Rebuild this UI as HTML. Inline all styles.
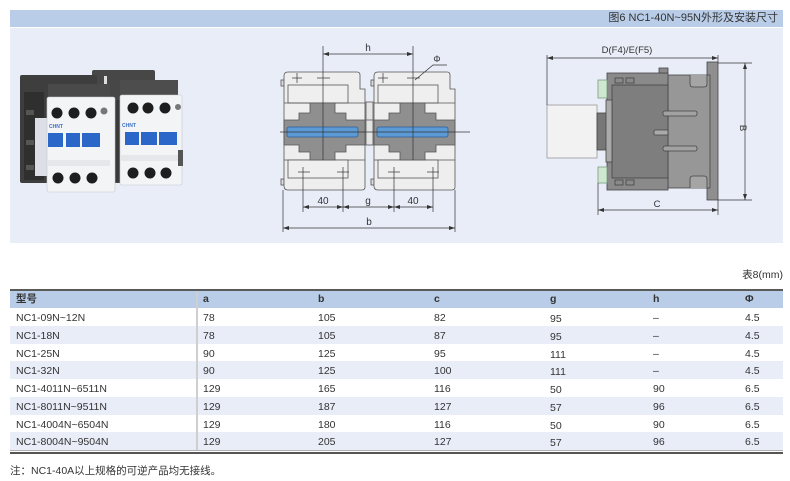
<!DOCTYPE html>
<html><head><meta charset="utf-8"><style>
body{margin:0;width:790px;height:481px;background:#fff;position:relative;overflow:hidden;font-family:"Liberation Sans","Noto Sans CJK SC",sans-serif;color:#333}
.a{position:absolute;white-space:nowrap}
.r{position:absolute;left:10px;width:773px;height:18px}
.t{position:absolute;font-size:10.5px;line-height:20px;white-space:nowrap}
.h{position:absolute;font-size:10.5px;line-height:17px;font-weight:bold;white-space:nowrap;top:291px}
</style></head><body>
<div class="a" style="left:10px;top:10px;width:773px;height:17px;background:#b9cde8"></div>
<div class="a" style="left:10px;top:28px;width:773px;height:215px;background:#e9edf8"></div>
<div class="a" style="right:12px;top:10px;line-height:17px;font-size:11px;color:#333">图6 NC1-40N~95N外形及安装尺寸</div>

<svg class="a" style="left:0;top:0" width="790" height="481" viewBox="0 0 790 481">
<defs>
<marker id="ar" markerWidth="6" markerHeight="6" refX="6" refY="3" orient="auto" markerUnits="userSpaceOnUse"><path d="M0,1 L6,3 L0,5 Z" fill="#333"/></marker>
<marker id="al" markerWidth="6" markerHeight="6" refX="0" refY="3" orient="auto" markerUnits="userSpaceOnUse"><path d="M6,1 L0,3 L6,5 Z" fill="#333"/></marker>
</defs>

<!-- PHOTO -->
<g>
<!-- right device back plate (behind) -->
<rect x="92" y="70" width="63" height="113" rx="2" fill="#474747"/>
<rect x="100" y="100" width="20" height="82" fill="#3a3a3a"/>
<rect x="104" y="76" width="3" height="8" fill="#ddd"/>
<!-- left device -->
<rect x="20" y="75" width="77" height="108" rx="2" fill="#3e3e3e"/>
<rect x="24" y="92" width="20" height="88" fill="#2f2f2f"/>
<rect x="26" y="110" width="8" height="5" fill="#555"/><rect x="26" y="140" width="8" height="5" fill="#555"/><rect x="26" y="165" width="8" height="5" fill="#555"/>
<rect x="35" y="118" width="12" height="58" fill="#dcdfe6"/>
<rect x="48" y="84" width="62" height="14" fill="#4a4a4a"/>
<rect x="47" y="97" width="68" height="95" rx="2" fill="#f3f4f6" stroke="#c4c7cc" stroke-width="0.6"/>
<circle cx="57" cy="113" r="5.5" fill="#1e1e1e"/><circle cx="74" cy="113" r="5.5" fill="#1e1e1e"/><circle cx="91" cy="113" r="5.5" fill="#1e1e1e"/><circle cx="104" cy="111" r="3.5" fill="#777"/>
<rect x="48" y="133" width="15" height="14" fill="#2a67c9"/><rect x="66" y="133" width="14" height="14" fill="#2a67c9"/><rect x="82" y="133" width="18" height="14" fill="#2a67c9"/>
<text x="49" y="128" font-size="5" fill="#3a6fc0" font-weight="bold">CHNT</text>
<rect x="48" y="160" width="62" height="6" fill="#e6e7ea"/>
<circle cx="58" cy="178" r="5.5" fill="#1e1e1e"/><circle cx="75" cy="178" r="5.5" fill="#1e1e1e"/><circle cx="92" cy="178" r="5.5" fill="#1e1e1e"/>
<!-- right device front -->
<rect x="120" y="80" width="58" height="16" fill="#4d4d4d"/>
<rect x="120" y="95" width="62" height="90" rx="2" fill="#f3f4f6" stroke="#c4c7cc" stroke-width="0.6"/>
<circle cx="133" cy="108" r="5.5" fill="#1e1e1e"/><circle cx="148" cy="108" r="5.5" fill="#1e1e1e"/><circle cx="165" cy="108" r="5.5" fill="#1e1e1e"/><circle cx="178" cy="107" r="3" fill="#777"/>
<text x="122" y="127" font-size="5" fill="#3a6fc0" font-weight="bold">CHNT</text>
<rect x="125" y="132" width="14" height="13" fill="#2a67c9"/><rect x="141" y="132" width="16" height="13" fill="#2a67c9"/><rect x="159" y="132" width="18" height="13" fill="#2a67c9"/>
<rect x="121" y="155" width="60" height="6" fill="#e6e7ea"/>
<rect x="178" y="150" width="5" height="16" fill="#555"/>
<circle cx="133" cy="173" r="5.5" fill="#1e1e1e"/><circle cx="150" cy="173" r="5.5" fill="#1e1e1e"/><circle cx="166" cy="173" r="5.5" fill="#1e1e1e"/>
</g>

<!-- MIDDLE DRAWING -->
<g stroke="#555" stroke-width="0.8">
<rect x="281" y="80" width="3" height="6" fill="#ddd"/>
<rect x="281" y="179" width="3" height="6" fill="#ddd"/>
<path d="M288,72 H357 Q360,72 360,75 V89 H365 V187 Q365,190 362,190 H288 Q284,190 284,186 V76 Q284,72 288,72 Z" fill="#eeeeee"/>
<rect x="288" y="85" width="60" height="18" fill="#efefef"/>
<line x1="284" y1="103" x2="365" y2="103"/>
<line x1="284" y1="160" x2="365" y2="160"/>
<rect x="288" y="160" width="60" height="18" fill="#efefef"/>
<path d="M310,103 H335 V113 H346 V120 H365 V145 H346 V152 H335 V160 H310 V152 H299 V145 H284 V120 H299 V113 H310 Z" fill="#8f8f8f"/>
<rect x="287" y="127" width="71" height="10" rx="2" fill="#5c9ad6" stroke="#2e5e99"/>
</g>
<g transform="translate(90,0)" stroke="#555" stroke-width="0.8">
<rect x="281" y="80" width="3" height="6" fill="#ddd"/>
<rect x="281" y="179" width="3" height="6" fill="#ddd"/>
<path d="M288,72 H357 Q360,72 360,75 V89 H365 V187 Q365,190 362,190 H288 Q284,190 284,186 V76 Q284,72 288,72 Z" fill="#eeeeee"/>
<rect x="288" y="85" width="60" height="18" fill="#efefef"/>
<line x1="284" y1="103" x2="365" y2="103"/>
<line x1="284" y1="160" x2="365" y2="160"/>
<rect x="288" y="160" width="60" height="18" fill="#efefef"/>
<path d="M310,103 H335 V113 H346 V120 H365 V145 H346 V152 H335 V160 H310 V152 H299 V145 H284 V120 H299 V113 H310 Z" fill="#8f8f8f"/>
<rect x="287" y="127" width="71" height="10" rx="2" fill="#5c9ad6" stroke="#2e5e99"/>
</g>
<rect x="366" y="102" width="7" height="43" fill="#e4e4e4" stroke="#555" stroke-width="0.8"/>
<line x1="366" y1="120" x2="373" y2="120" stroke="#555" stroke-width="0.8"/>

<g stroke="#333" stroke-width="0.7" fill="none">
<line x1="280" y1="132" x2="470" y2="132"/>
<line x1="323" y1="46" x2="323" y2="160"/>
<line x1="413" y1="46" x2="413" y2="160"/>
<line x1="292" y1="78" x2="302" y2="78"/><line x1="297" y1="73" x2="297" y2="83"/>
<line x1="317" y1="78" x2="330" y2="78"/>
<line x1="378" y1="78" x2="388" y2="78"/><line x1="383" y1="73" x2="383" y2="83"/>
<line x1="407" y1="78" x2="420" y2="78"/>
<line x1="298" y1="172" x2="310" y2="172"/><line x1="337" y1="172" x2="349" y2="172"/>
<line x1="388" y1="172" x2="400" y2="172"/><line x1="427" y1="172" x2="439" y2="172"/>
<line x1="303" y1="167" x2="303" y2="212"/><line x1="343" y1="167" x2="343" y2="212"/>
<line x1="394" y1="167" x2="394" y2="212"/><line x1="433" y1="167" x2="433" y2="212"/>
<line x1="283" y1="190" x2="283" y2="232"/><line x1="455" y1="190" x2="455" y2="232"/>
<line x1="323" y1="54" x2="413" y2="54" marker-start="url(#al)" marker-end="url(#ar)"/>
<line x1="303" y1="207" x2="343" y2="207" marker-start="url(#al)" marker-end="url(#ar)"/>
<line x1="343" y1="207" x2="394" y2="207" marker-start="url(#al)" marker-end="url(#ar)"/>
<line x1="394" y1="207" x2="433" y2="207" marker-start="url(#al)" marker-end="url(#ar)"/>
<line x1="283" y1="228" x2="455" y2="228" marker-start="url(#al)" marker-end="url(#ar)"/>
<polyline points="447,65 433,65 415,80"/>
</g>
<g font-family="Liberation Sans, sans-serif" font-size="10" fill="#333" text-anchor="middle">
<text x="368" y="51">h</text>
<text x="437" y="62" font-size="9">Φ</text>
<text x="323" y="204">40</text>
<text x="368" y="204">g</text>
<text x="413" y="204">40</text>
<text x="369" y="225">b</text>
</g>

<!-- RIGHT SIDE VIEW -->
<g stroke="#444" stroke-width="0.8">
<rect x="547" y="105" width="50" height="53" fill="#f2f2f2" stroke="#999"/>
<rect x="597" y="113" width="10" height="37" fill="#777"/>
<rect x="707" y="62" width="11" height="138" fill="#8f8f8f"/>
<rect x="668" y="75" width="42" height="113" fill="#979797"/>
<path d="M690,75 V84 Q690,87 693,87 H704 Q707,87 707,84 V75" fill="#a5a5a5"/>
<path d="M690,188 V179 Q690,176 693,176 H704 Q707,176 707,179 V188" fill="#a5a5a5"/>
<rect x="607" y="73" width="61" height="117" fill="#8a8a8a"/>
<rect x="659" y="68" width="9" height="5" fill="#8a8a8a"/>
<rect x="612" y="85" width="56" height="93" fill="#7e7e7e"/>
<rect x="615" y="78" width="8" height="5" fill="#8a8a8a"/><rect x="626" y="78" width="8" height="5" fill="#8a8a8a"/>
<rect x="615" y="180" width="8" height="5" fill="#8a8a8a"/><rect x="626" y="180" width="8" height="5" fill="#8a8a8a"/>
<rect x="663" y="111" width="34" height="5" rx="2" fill="#a2a2a2"/>
<rect x="663" y="146" width="34" height="5" rx="2" fill="#a2a2a2"/>
<rect x="654" y="130" width="14" height="5" rx="1" fill="#aaa"/>
<rect x="606" y="100" width="6" height="62" fill="#aaa"/>
<rect x="598" y="80" width="9" height="18" fill="#cfe8d0" stroke="#7a9a80"/>
<rect x="598" y="167" width="9" height="16" fill="#cfe8d0" stroke="#7a9a80"/>
</g>
<g stroke="#333" stroke-width="0.7" fill="none">
<line x1="547" y1="55" x2="547" y2="105"/>
<line x1="718" y1="55" x2="718" y2="62"/>
<line x1="547" y1="58" x2="718" y2="58" marker-start="url(#al)" marker-end="url(#ar)"/>
<line x1="718" y1="63" x2="752" y2="63"/>
<line x1="718" y1="200" x2="752" y2="200"/>
<line x1="745" y1="63" x2="745" y2="200" marker-start="url(#al)" marker-end="url(#ar)"/>
<line x1="598" y1="183" x2="598" y2="215"/>
<line x1="718" y1="200" x2="718" y2="215"/>
<line x1="598" y1="210" x2="718" y2="210" marker-start="url(#al)" marker-end="url(#ar)"/>
</g>
<g font-family="Liberation Sans, sans-serif" font-size="9.5" fill="#333" text-anchor="middle">
<text x="627" y="53">D(F4)/E(F5)</text>
<text x="657" y="207">C</text>
<text x="740" y="128" transform="rotate(90 740 128)">B</text>
</g>
</svg>

<div class="a" style="right:7px;top:268px;font-size:10.5px;line-height:14px">表8(mm)</div>

<!-- TABLE -->
<div class="a" style="left:10px;top:289px;width:773px;height:2px;background:#5a5a5a"></div>
<div class="a" style="left:10px;top:291px;width:773px;height:17px;background:#b9cde8"></div>
<div class="r" style="top:325.75px;background:#e8edf8"></div>
<div class="r" style="top:361.25px;background:#e8edf8"></div>
<div class="r" style="top:396.75px;background:#e8edf8"></div>
<div class="r" style="top:432.25px;background:#e8edf8"></div>
<div class="a" style="left:196px;top:291px;width:2px;height:160px;background:#cfcfcf"></div>
<div class="a" style="left:10px;top:450px;width:773px;height:1px;background:#b0b0b0"></div>
<div class="a" style="left:10px;top:452px;width:773px;height:2px;background:#555"></div>

<div class="h" style="left:16px">型号</div>
<div class="h" style="left:203px">a</div>
<div class="h" style="left:318px">b</div>
<div class="h" style="left:434px">c</div>
<div class="h" style="left:550px">g</div>
<div class="h" style="left:653px">h</div>
<div class="h" style="left:745px">Φ</div>

<div class="t" style="left:16px;top:308px">NC1-09N~12N</div><div class="t" style="left:203px;top:308px">78</div><div class="t" style="left:318px;top:308px">105</div><div class="t" style="left:434px;top:308px">82</div><div class="t" style="left:550px;top:309px">95</div><div class="t" style="left:653px;top:308px">–</div><div class="t" style="left:745px;top:308px">4.5</div>
<div class="t" style="left:16px;top:325.75px">NC1-18N</div><div class="t" style="left:203px;top:325.75px">78</div><div class="t" style="left:318px;top:325.75px">105</div><div class="t" style="left:434px;top:325.75px">87</div><div class="t" style="left:550px;top:326.75px">95</div><div class="t" style="left:653px;top:325.75px">–</div><div class="t" style="left:745px;top:325.75px">4.5</div>
<div class="t" style="left:16px;top:343.5px">NC1-25N</div><div class="t" style="left:203px;top:343.5px">90</div><div class="t" style="left:318px;top:343.5px">125</div><div class="t" style="left:434px;top:343.5px">95</div><div class="t" style="left:550px;top:344.5px">111</div><div class="t" style="left:653px;top:343.5px">–</div><div class="t" style="left:745px;top:343.5px">4.5</div>
<div class="t" style="left:16px;top:361.25px">NC1-32N</div><div class="t" style="left:203px;top:361.25px">90</div><div class="t" style="left:318px;top:361.25px">125</div><div class="t" style="left:434px;top:361.25px">100</div><div class="t" style="left:550px;top:362.25px">111</div><div class="t" style="left:653px;top:361.25px">–</div><div class="t" style="left:745px;top:361.25px">4.5</div>
<div class="t" style="left:16px;top:379px">NC1-4011N~6511N</div><div class="t" style="left:203px;top:379px">129</div><div class="t" style="left:318px;top:379px">165</div><div class="t" style="left:434px;top:379px">116</div><div class="t" style="left:550px;top:380px">50</div><div class="t" style="left:653px;top:379px">90</div><div class="t" style="left:745px;top:379px">6.5</div>
<div class="t" style="left:16px;top:396.75px">NC1-8011N~9511N</div><div class="t" style="left:203px;top:396.75px">129</div><div class="t" style="left:318px;top:396.75px">187</div><div class="t" style="left:434px;top:396.75px">127</div><div class="t" style="left:550px;top:397.75px">57</div><div class="t" style="left:653px;top:396.75px">96</div><div class="t" style="left:745px;top:396.75px">6.5</div>
<div class="t" style="left:16px;top:414.5px">NC1-4004N~6504N</div><div class="t" style="left:203px;top:414.5px">129</div><div class="t" style="left:318px;top:414.5px">180</div><div class="t" style="left:434px;top:414.5px">116</div><div class="t" style="left:550px;top:415.5px">50</div><div class="t" style="left:653px;top:414.5px">90</div><div class="t" style="left:745px;top:414.5px">6.5</div>
<div class="t" style="left:16px;top:432.25px">NC1-8004N~9504N</div><div class="t" style="left:203px;top:432.25px">129</div><div class="t" style="left:318px;top:432.25px">205</div><div class="t" style="left:434px;top:432.25px">127</div><div class="t" style="left:550px;top:433.25px">57</div><div class="t" style="left:653px;top:432.25px">96</div><div class="t" style="left:745px;top:432.25px">6.5</div>

<div class="a" style="left:10px;top:463px;font-size:10.5px;line-height:16px">注：NC1-40A以上规格的可逆产品均无接线。</div>
</body></html>
